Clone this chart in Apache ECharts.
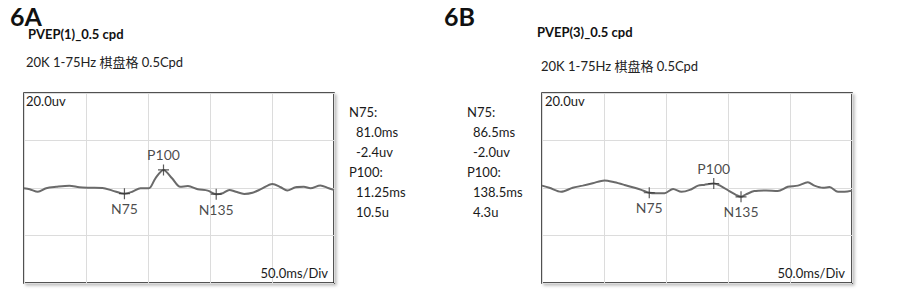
<!DOCTYPE html>
<html>
<head>
<meta charset="utf-8">
<script src="https://cdn.jsdelivr.net/npm/echarts@6/dist/echarts.min.js"></script>
<style>
  html, body { margin: 0; padding: 0; background: #fff; }
  #main { width: 903px; height: 291px; }
</style>
</head>
<body>
<div id="main"></div>
<script>
// PVEP(1) trace, time in ms, amplitude in uV
var timeA = [0, 4.6, 11.2, 17.9, 25.9, 36.6, 44.6, 52.6, 63.3, 71.3, 81.0, 87.3, 94, 100.7, 106, 112.5, 119.4, 126,
  132.2, 140.2, 148.2, 155, 160.3, 165.6, 170.9, 177.6, 184.3, 191, 200.3, 207, 212.3, 219, 225.7, 231, 239, 245.8, 250];
var voltA = [-0.1, -0.5, -1.6, -0.1, 0.5, 1.0, 0.3, 0.1, 0, -1.1, -2.4, -1.6, -0.1, -0.1, 4.1, 7.6, 4.1, 0.5,
  0.8, -0.5, -1.1, -2.6, -2.2, -0.8, -1.6, -2.5, -2.0, -0.5, 1.7, 0.3, -1.1, 0.3, 0.5, -0.1, 1.1, -0.1, -0.8];

// PVEP(3) trace
var timeB = [0, 5.9, 15.4, 24.8, 32.8, 40.9, 50.4, 58.5, 66.6, 74.7, 80.1, 86.5, 92.2, 98.9, 105.7, 112.5, 119.2, 125.9,
  130.7, 138.5, 144.3, 151, 156.4, 160.5, 164.5, 171.2, 180.7, 190.1, 198.2, 206.3, 214.4, 219.7, 226.5, 231.9, 238.7, 244, 250];
var voltB = [1.0, 0.1, -1.6, 0.1, 1.0, 2.0, 3.2, 2.4, 1.3, 0.1, -0.8, -2.0, -2.2, -2.2, -0.4, -1.6, -0.8, 1.0,
  1.3, 1.9, 0.8, -1.3, -2.9, -3.7, -2.7, -1.3, -1.0, -1.3, 0.5, 1.0, 2.4, 1.0, 0.1, 0.4, -1.6, -1.6, -1.1];

var peakNames = ["N75", "P100", "N135"];
var peakTimeA = [81.0, 112.5, 155];
var peakVoltA = [-2.4, 7.6, -2.6];
var peakTimeB = [86.5, 138.5, 160.5];
var peakVoltB = [-2.0, 1.9, -3.7];

var measA = ["N75:", " 81.0ms", " -2.4uv", "P100:", " 11.25ms", " 10.5u"];
var measB = ["N75:", " 86.5ms", " -2.0uv", "P100:", " 138.5ms", " 4.3u"];

var ampLabel = "20.0uv";
var timeLabel = "50.0ms/Div";

var FONT = "Lato, 'Open Sans', 'Noto Sans CJK SC', sans-serif";

function zip(t, v) {
  return t.map(function (x, i) { return [x, v[i]]; });
}

function panel(idx, left) {
  var grid = {
    left: left, top: 93, width: 310, height: 190,
    show: true, borderColor: "#1a1a1a", borderWidth: 1.5, backgroundColor: "#fff",
    shadowColor: "rgba(0,0,0,0.25)", shadowBlur: 3, shadowOffsetX: 2, shadowOffsetY: 2
  };
  var xAxis = {
    gridIndex: idx, type: "value", min: 0, max: 250, interval: 50,
    axisLine: { show: false }, axisTick: { show: false }, axisLabel: { show: false },
    splitLine: { lineStyle: { color: "#dcdcdc", width: 1 } }
  };
  var yAxis = {
    gridIndex: idx, type: "value", min: -40, max: 40, interval: 20,
    axisLine: { show: false }, axisTick: { show: false }, axisLabel: { show: false },
    splitLine: { lineStyle: { color: "#dcdcdc", width: 1 } }
  };
  return { grid: grid, xAxis: xAxis, yAxis: yAxis };
}

function peakSeries(idx, t, v) {
  return {
    type: "scatter", xAxisIndex: idx, yAxisIndex: idx,
    symbol: "path://M5,0L5,10M0,5L10,5", symbolSize: 11,
    itemStyle: { color: "none", borderColor: "#333", borderWidth: 1.2 },
    z: 5,
    data: peakNames.map(function (n, i) {
      return {
        name: n, value: [t[i], v[i]],
        label: {
          show: true, formatter: n, position: n === "P100" ? "top" : "bottom",
          distance: 0, color: "#1a1a1a", fontSize: 14, fontFamily: FONT
        }
      };
    })
  };
}

var pA = panel(0, 24);
var pB = panel(1, 542);

var graphics = [];
function addMeas(lines, x0, x1) {
  lines.forEach(function (s, i) {
    var indent = s.charAt(0) === " ";
    graphics.push({
      type: "text", left: indent ? x1 : x0, top: 105 + i * 20,
      style: { text: s.trim(), fill: "#1a1a1a", font: "13px " + FONT }
    });
  });
}
addMeas(measA, 349, 356);
addMeas(measB, 467, 473);

[[26, 94], [545, 94]].forEach(function (p) {
  graphics.push({ type: "text", left: p[0], top: p[1], z: 10,
    style: { text: ampLabel, fill: "#1a1a1a", font: "13px " + FONT } });
});
[[328, 266], [845, 266]].forEach(function (p) {
  graphics.push({ type: "text", right: 903 - p[0], top: p[1], z: 10,
    style: { text: timeLabel, fill: "#1a1a1a", font: "13px " + FONT } });
});

var chart = echarts.init(document.getElementById("main"), null, { renderer: "svg" });
var option = {
  backgroundColor: "#fff",
  animation: false,
  title: [
    { text: "6A", left: 10, top: 3, padding: 0, textStyle: { fontSize: 25, fontWeight: "bold", color: "#111", fontFamily: FONT } },
    { text: "PVEP(1)_0.5 cpd", left: 28, top: 27, padding: 0, textStyle: { fontSize: 13, fontWeight: "bold", color: "#111", fontFamily: FONT } },
    { text: "20K 1-75Hz 棋盘格 0.5Cpd", left: 26, top: 55, padding: 0, textStyle: { fontSize: 13, fontWeight: "normal", color: "#222", fontFamily: FONT } },
    { text: "6B", left: 444, top: 3, padding: 0, textStyle: { fontSize: 25, fontWeight: "bold", color: "#111", fontFamily: FONT } },
    { text: "PVEP(3)_0.5 cpd", left: 537, top: 25, padding: 0, textStyle: { fontSize: 13, fontWeight: "bold", color: "#111", fontFamily: FONT } },
    { text: "20K 1-75Hz 棋盘格 0.5Cpd", left: 541, top: 59, padding: 0, textStyle: { fontSize: 13, fontWeight: "normal", color: "#222", fontFamily: FONT } }
  ],
  grid: [pA.grid, pB.grid],
  xAxis: [pA.xAxis, pB.xAxis],
  yAxis: [pA.yAxis, pB.yAxis],
  graphic: graphics,
  series: [
    { type: "line", xAxisIndex: 0, yAxisIndex: 0, data: zip(timeA, voltA), smooth: 0.3, showSymbol: false,
      lineStyle: { color: "#6a6a6a", width: 2 } },
    { type: "line", xAxisIndex: 1, yAxisIndex: 1, data: zip(timeB, voltB), smooth: 0.3, showSymbol: false,
      lineStyle: { color: "#6a6a6a", width: 2 } },
    peakSeries(0, peakTimeA, peakVoltA),
    peakSeries(1, peakTimeB, peakVoltB)
  ]
};
chart.setOption(option);
</script>
</body>
</html>
